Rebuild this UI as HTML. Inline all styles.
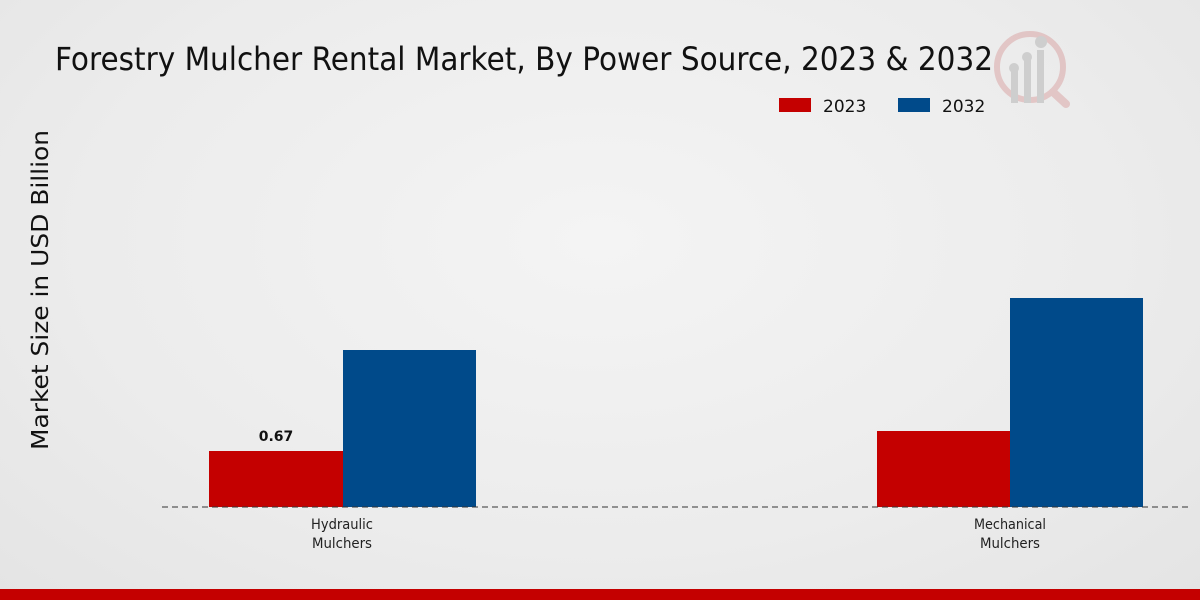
<!DOCTYPE html>
<html><head><meta charset="utf-8"><style>
html,body{margin:0;padding:0}
body{width:1200px;height:600px;overflow:hidden;background:radial-gradient(ellipse at 50% 40%,#f4f4f4 0%,#ececec 60%,#e4e4e4 100%);font-family:"DejaVu Sans","Liberation Sans",sans-serif;position:relative}
</style></head><body>
<svg width="1200" height="600" style="position:absolute;left:0;top:0">
<g opacity="0.35">
<circle cx="1030" cy="67" r="33" fill="none" stroke="#d08080" stroke-width="6"/>
<line x1="1053" y1="92" x2="1066" y2="104" stroke="#d08080" stroke-width="8" stroke-linecap="round"/>
<rect x="1011" y="70" width="7" height="33" fill="#999"/>
<rect x="1024" y="60" width="7" height="43" fill="#999"/>
<rect x="1037" y="50" width="7" height="53" fill="#999"/>
<circle cx="1014" cy="68" r="5" fill="#999"/><circle cx="1027" cy="57" r="5" fill="#999"/><circle cx="1041" cy="42" r="6" fill="#999"/>
</g>
<text x="55" y="70" font-size="32" fill="#111" font-family="DejaVu Sans" textLength="938" lengthAdjust="spacingAndGlyphs">Forestry Mulcher Rental Market, By Power Source, 2023 &amp; 2032</text>
<rect x="779" y="98" width="32" height="14" fill="#c40000"/>
<text x="823" y="112" font-size="17" fill="#111">2023</text>
<rect x="898" y="98" width="32" height="14" fill="#004a8a"/>
<text x="942" y="112" font-size="17" fill="#111">2032</text>
<text transform="translate(48,290) rotate(-90)" font-size="23" fill="#111" text-anchor="middle" textLength="320" lengthAdjust="spacingAndGlyphs">Market Size in USD Billion</text>
<rect x="209" y="451" width="134" height="56" fill="#c40000"/>
<rect x="343" y="350" width="133" height="157" fill="#004a8a"/>
<rect x="877" y="431" width="133" height="76" fill="#c40000"/>
<rect x="1010" y="298" width="133" height="209" fill="#004a8a"/>
<line x1="162" y1="507" x2="1190" y2="507" stroke="#333" stroke-width="1" stroke-dasharray="6,4"/>
<text x="276" y="441" font-size="14" font-weight="bold" text-anchor="middle" fill="#111">0.67</text>
<text x="342" y="529" font-size="14" text-anchor="middle" fill="#222" textLength="62" lengthAdjust="spacingAndGlyphs">Hydraulic</text>
<text x="342" y="548" font-size="14" text-anchor="middle" fill="#222" textLength="60" lengthAdjust="spacingAndGlyphs">Mulchers</text>
<text x="1010" y="529" font-size="14" text-anchor="middle" fill="#222" textLength="72" lengthAdjust="spacingAndGlyphs">Mechanical</text>
<text x="1010" y="548" font-size="14" text-anchor="middle" fill="#222" textLength="60" lengthAdjust="spacingAndGlyphs">Mulchers</text>
<rect x="0" y="589" width="1200" height="11" fill="#c40000"/>
</svg>
</body></html>
